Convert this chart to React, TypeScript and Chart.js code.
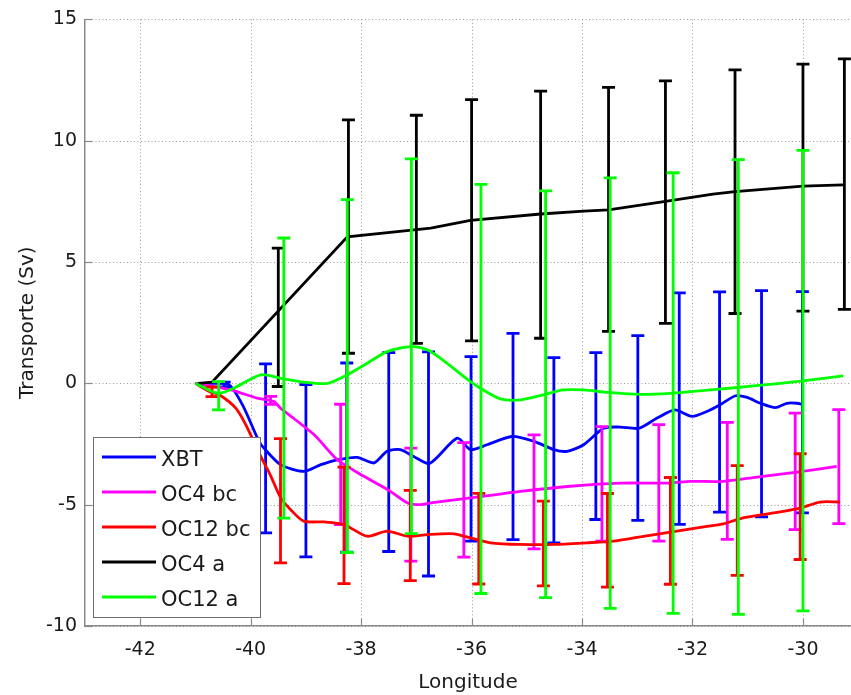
import React, { useEffect, useRef } from "react";
import { Chart, registerables } from "chart.js";

Chart.register(...registerables);

// ---------- axis ticks ----------
const X_TICKS = [-42, -40, -38, -36, -34, -32, -30];
const Y_TICKS = [-10, -5, 0, 5, 10, 15];

// ---------- XBT (blue) ----------
const xbtX = [-41.0, -40.7, -40.39, -40.15, -39.85, -39.76, -39.46, -39.04, -38.73, -38.43, -38.07, -37.77, -37.53, -37.29, -37.05, -36.76, -36.26, -36.02, -35.72, -35.27, -34.87, -34.51, -34.27, -33.97, -33.61, -33.31, -32.97, -32.64, -32.32, -32.01, -31.74, -31.5, -31.22, -31.01, -30.77, -30.5, -30.29, -30.11, -29.99];
const xbtY = [0, 0.0, -0.06, -0.88, -2.39, -2.67, -3.35, -3.63, -3.35, -3.15, -3.05, -3.28, -2.8, -2.73, -3.01, -3.3, -2.26, -2.73, -2.53, -2.19, -2.39, -2.73, -2.8, -2.53, -1.85, -1.8, -1.85, -1.43, -1.09, -1.36, -1.16, -0.88, -0.51, -0.58, -0.82, -1.0, -0.82, -0.82, -0.88];
const xbtErrX = [-40.48, -39.73, -39.0, -38.26, -37.5, -36.78, -36.01, -35.25, -34.51, -33.75, -32.99, -32.24, -31.51, -30.75, -30.01];
const xbtErrY = [-0.05, -2.68, -3.6, -3.06, -2.83, -3.32, -2.7, -2.19, -2.76, -2.17, -1.84, -1.04, -0.77, -0.84, -0.78];
const xbtErr = [0.1, 3.48, 3.55, 3.9, 4.1, 4.62, 3.8, 4.25, 3.82, 3.44, 3.81, 4.77, 4.54, 4.66, 4.56];

// ---------- OC4 bc (magenta) ----------
const oc4bcX = [-41.0, -40.36, -39.88, -39.58, -39.46, -38.85, -38.43, -37.95, -37.47, -37.16, -36.92, -36.74, -36.02, -35.11, -34.21, -33.31, -32.4, -32.04, -31.44, -30.83, -30.11, -29.39];
const oc4bcY = [0, -0.27, -0.61, -0.75, -1.02, -2.12, -3.15, -3.83, -4.45, -4.93, -5.0, -4.93, -4.72, -4.45, -4.24, -4.11, -4.11, -4.04, -4.04, -3.86, -3.66, -3.42];
const oc4bcErrX = [-39.64, -38.37, -37.1, -36.14, -34.87, -33.64, -32.61, -31.37, -30.14, -29.35];
const oc4bcErrY = [-0.7, -3.34, -5.0, -4.8, -4.47, -4.14, -4.1, -4.02, -3.63, -3.43];
const oc4bcErr = [0.16, 2.48, 2.33, 2.36, 2.35, 2.36, 2.4, 2.41, 2.4, 2.35];

// ---------- OC12 bc (red) ----------
const oc12bcX = [-41.0, -40.75, -40.57, -40.27, -40.09, -39.82, -39.64, -39.46, -39.28, -39.04, -38.67, -38.31, -37.89, -37.53, -37.16, -36.8, -36.32, -36.02, -35.66, -35.11, -34.51, -33.91, -33.43, -33.0, -32.37, -31.74, -31.44, -31.13, -30.53, -30.05, -29.69, -29.33];
const oc12bcY = [0, -0.34, -0.47, -1.02, -1.7, -3.0, -3.8, -4.7, -5.2, -5.68, -5.71, -5.82, -6.3, -6.09, -6.3, -6.23, -6.2, -6.37, -6.57, -6.64, -6.64, -6.57, -6.5, -6.35, -6.12, -5.89, -5.79, -5.57, -5.34, -5.14, -4.89, -4.89];
const oc12bcErrX = [-40.7, -39.46, -38.31, -37.11, -35.87, -34.7, -33.54, -32.4, -31.19, -30.05];
const oc12bcErrY = [-0.35, -4.84, -5.85, -6.27, -6.4, -6.6, -6.47, -6.08, -5.65, -5.08];
const oc12bcErr = [0.2, 2.56, 2.4, 1.86, 1.87, 1.75, 1.93, 2.2, 2.26, 2.18];

// ---------- OC4 a (black) ----------
const oc4aX = [-40.95, -40.7, -38.25, -36.74, -36.02, -34.75, -33.97, -33.52, -32.49, -31.63, -31.23, -30.0, -29.27];
const oc4aY = [0, 0.05, 6.04, 6.4, 6.72, 6.98, 7.1, 7.15, 7.5, 7.8, 7.9, 8.13, 8.18];
const oc4aErrX = [-39.5, -38.23, -37.0, -36.0, -34.75, -33.52, -32.49, -31.23, -30.0, -29.25];
const oc4aErrY = [2.72, 6.05, 6.35, 6.72, 6.95, 7.17, 7.47, 7.9, 8.07, 8.21];
const oc4aErr = [2.85, 4.81, 4.7, 4.97, 5.09, 5.03, 5.0, 5.02, 5.09, 5.16];

// ---------- OC12 a (green) ----------
const oc12aX = [-41.0, -40.6, -40.31, -39.82, -39.46, -39.04, -38.61, -38.25, -37.89, -37.53, -37.1, -36.8, -36.56, -36.02, -35.84, -35.48, -35.11, -34.7, -34.34, -33.97, -33.54, -32.94, -32.4, -32.04, -31.19, -30.41, -30.0, -29.27];
const oc12aY = [0, -0.41, -0.2, 0.35, 0.21, 0.05, 0.0, 0.35, 0.83, 1.31, 1.51, 1.38, 1.03, 0.07, -0.2, -0.64, -0.68, -0.47, -0.27, -0.27, -0.37, -0.45, -0.41, -0.34, -0.17, 0.0, 0.1, 0.31];
const oc12aErrX = [-40.58, -39.4, -38.25, -37.09, -35.83, -34.66, -33.49, -32.35, -31.17, -30.0];
const oc12aErrY = [-0.51, 0.22, 0.3, 1.53, -0.23, -0.45, -0.4, -0.4, -0.15, 0.11];
const oc12aErr = [0.58, 5.77, 7.27, 7.72, 8.43, 8.38, 8.87, 9.08, 9.37, 9.49];

const LABELS = ["XBT", "OC4 bc", "OC12 bc", "OC4 a", "OC12 a"];
const COLORS = ["#0000ff", "#ff00ff", "#ff0000", "#000000", "#00ff00"];

const FONT = "DejaVu Sans";
const AXIS_COLOR = "#8a8a8a";

const zip = (xs: number[], ys: number[]) => xs.map((x, i) => ({ x, y: ys[i] }));

const errorBarPlugin = {
  id: "errorBars",
  beforeDatasetsDraw(chart: any) {
    // dotted grid + inward ticks
    const { ctx, chartArea, scales } = chart;
    const x = scales.x, y = scales.y;
    ctx.save();
    ctx.strokeStyle = "rgba(120,120,120,0.75)";
    ctx.lineWidth = 1;
    ctx.setLineDash([1, 2.5]);
    X_TICKS.forEach((v) => {
      const px = Math.round(x.getPixelForValue(v)) + 0.5;
      ctx.beginPath();
      ctx.moveTo(px, chartArea.top);
      ctx.lineTo(px, chartArea.bottom);
      ctx.stroke();
    });
    Y_TICKS.forEach((v) => {
      const py = Math.round(y.getPixelForValue(v)) + 0.5;
      ctx.beginPath();
      ctx.moveTo(chartArea.left, py);
      ctx.lineTo(chartArea.right, py);
      ctx.stroke();
    });
    ctx.setLineDash([]);
    ctx.strokeStyle = AXIS_COLOR;
    ctx.lineWidth = 1.2;
    X_TICKS.forEach((v) => {
      const px = Math.round(x.getPixelForValue(v)) + 0.5;
      ctx.beginPath();
      ctx.moveTo(px, chartArea.bottom);
      ctx.lineTo(px, chartArea.bottom - 7);
      ctx.stroke();
    });
    Y_TICKS.forEach((v) => {
      const py = Math.round(y.getPixelForValue(v)) + 0.5;
      ctx.beginPath();
      ctx.moveTo(chartArea.left, py);
      ctx.lineTo(chartArea.left + 7, py);
      ctx.stroke();
    });
    ctx.restore();
  },
  afterDatasetDraw(chart: any, args: any) {
    const ds: any = chart.data.datasets[args.index];
    const eb = ds.errorBars;
    if (!eb) return;
    const { ctx } = chart;
    const x = chart.scales.x, y = chart.scales.y;
    ctx.save();
    ctx.strokeStyle = ds.borderColor;
    ctx.lineWidth = 2.8;
    ctx.lineCap = "butt";
    eb.x.forEach((xv: number, i: number) => {
      const px = x.getPixelForValue(xv);
      const top = y.getPixelForValue(eb.y[i] + eb.e[i]);
      const bot = y.getPixelForValue(eb.y[i] - eb.e[i]);
      ctx.beginPath();
      ctx.moveTo(px, top);
      ctx.lineTo(px, bot);
      ctx.moveTo(px - 6.5, top);
      ctx.lineTo(px + 6.5, top);
      ctx.moveTo(px - 6.5, bot);
      ctx.lineTo(px + 6.5, bot);
      ctx.stroke();
    });
    ctx.restore();
  },
  afterDraw(chart: any) {
    // legend box inside the axes (lower-left)
    const { ctx } = chart;
    const bx = 93, by = 437, bw = 167, bh = 180;
    ctx.save();
    ctx.fillStyle = "#ffffff";
    ctx.fillRect(bx, by, bw, bh);
    ctx.strokeStyle = "#6e6e6e";
    ctx.lineWidth = 1;
    ctx.strokeRect(bx + 0.5, by + 0.5, bw, bh);
    ctx.font = `21px "${FONT}"`;
    ctx.textBaseline = "middle";
    ctx.textAlign = "left";
    chart.data.datasets.forEach((ds: any, i: number) => {
      const ly = 457 + i * 35;
      ctx.strokeStyle = ds.borderColor;
      ctx.lineWidth = 2.8;
      ctx.beginPath();
      ctx.moveTo(102, ly);
      ctx.lineTo(156, ly);
      ctx.stroke();
      ctx.fillStyle = "#1a1a1a";
      ctx.fillText(ds.label, 161, ly + 4);
    });
    ctx.restore();
  },
};

export default function App() {
  const canvasRef = useRef<HTMLCanvasElement | null>(null);

  useEffect(() => {
    if (!canvasRef.current) return;
    const series = [
      { x: xbtX, y: xbtY, ex: xbtErrX, ey: xbtErrY, e: xbtErr },
      { x: oc4bcX, y: oc4bcY, ex: oc4bcErrX, ey: oc4bcErrY, e: oc4bcErr },
      { x: oc12bcX, y: oc12bcY, ex: oc12bcErrX, ey: oc12bcErrY, e: oc12bcErr },
      { x: oc4aX, y: oc4aY, ex: oc4aErrX, ey: oc4aErrY, e: oc4aErr },
      { x: oc12aX, y: oc12aY, ex: oc12aErrX, ey: oc12aErrY, e: oc12aErr },
    ];
    const datasets: any[] = series.map((s, i) => ({
      label: LABELS[i],
      data: zip(s.x, s.y),
      borderColor: COLORS[i],
      backgroundColor: COLORS[i],
      borderWidth: 2.8,
      pointRadius: 0,
      tension: i === 3 ? 0 : 0.25,
      fill: false,
      order: 5 - i,
      errorBars: { x: s.ex, y: s.ey, e: s.e },
    }));

    const chart = new Chart(canvasRef.current, {
      type: "line",
      data: { datasets },
      plugins: [errorBarPlugin],
      options: {
        responsive: false,
        animation: false,
        devicePixelRatio: 1,
        layout: { padding: { top: 17, right: 0, bottom: 0, left: 0 } },
        plugins: {
          legend: { display: false },
          tooltip: { enabled: false },
        },
        scales: {
          x: {
            type: "linear",
            min: -43,
            max: -29.13,
            afterBuildTicks: (s: any) => {
              s.ticks = X_TICKS.map((v) => ({ value: v }));
            },
            afterFit: (s: any) => {
              s.height = 69;
            },
            grid: { display: false, drawTicks: false },
            border: { display: true, color: AXIS_COLOR, width: 1.5 },
            ticks: {
              padding: 13,
              maxRotation: 0,
              autoSkip: false,
              color: "#1a1a1a",
              font: { family: FONT, size: 19 },
            },
            title: {
              display: true,
              text: "Longitude",
              color: "#1a1a1a",
              font: { family: FONT, size: 20 },
              padding: { top: 0, bottom: 0 },
            },
          },
          y: {
            type: "linear",
            min: -10,
            max: 15,
            afterBuildTicks: (s: any) => {
              s.ticks = Y_TICKS.map((v) => ({ value: v }));
            },
            afterFit: (s: any) => {
              s.width = 85;
            },
            grid: { display: false, drawTicks: false },
            border: { display: true, color: AXIS_COLOR, width: 1.5 },
            ticks: {
              padding: 8,
              color: "#1a1a1a",
              font: { family: FONT, size: 19 },
            },
            title: {
              display: true,
              text: "Transporte (Sv)",
              color: "#1a1a1a",
              font: { family: FONT, size: 20 },
              padding: { top: 16, bottom: 0 },
            },
          },
        },
      } as any,
    });
    return () => chart.destroy();
  }, []);

  return (
    <div style={{ position: "absolute", left: 0, top: 0, width: 851, height: 695, background: "#fff" }}>
      <canvas ref={canvasRef} width={851} height={695} style={{ display: "block", width: 851, height: 695 }} />
    </div>
  );
}
